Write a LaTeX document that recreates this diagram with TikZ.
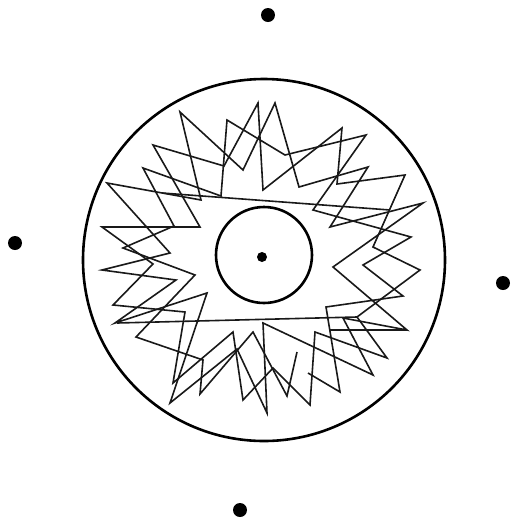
\documentclass[tikz,border=0pt]{standalone}
\begin{document}
\begin{tikzpicture}[x=0.5pt,y=-0.5pt,
    rim/.style={line width=1.3pt},
    walk/.style={line width=0.8pt, line join=miter, black!90}]
    \useasboundingbox (0,0) rectangle (511,521);

    % Circles
    \draw[rim] (264,260) circle[radius=181];
    \draw[rim] (264,255) circle[radius=48];

    % Dots
    \fill (262,257) circle[radius=5];
    \foreach \px/\py in {268/15, 15/243, 503/283, 240/510} {
        \fill (\px,\py) circle[radius=7];
    }

    % First loop
    \draw[walk] (423,203) -- (330,227) -- (368,167) -- (299,187) -- (275,103)
        -- (243,170) -- (180,112) -- (201,200) -- (107,183) -- (170,253)
        -- (102,270) -- (176,280) -- (115,323) -- (207,293) -- (170,403)
        -- (237,349) -- (267,413) -- (263,323) -- (373,375) -- (343,318)
        -- (407,330) -- (333,267) -- cycle;

    % Second loop
    \draw[walk] (405,175) -- (337,184) -- (342,128) -- (263,190) -- (258,103)
        -- (224,166) -- (153,145) -- (200,227) -- (102,227) -- (153,264)
        -- (113,305) -- (185,312) -- (173,383) -- (233,332) -- (243,400)
        -- (273,368) -- (310,405) -- (315,332) -- (387,358) -- (357,317)
        -- (420,270) -- (373,247) -- cycle;

    % Third, open stroke
    \draw[walk] (308,373) -- (340,392) -- (326,307) -- (403,296) -- (363,265)
        -- (411,237) -- (313,210) -- (366,135) -- (285,155) -- (227,120)
        -- (221,196) -- (143,168) -- (174,226) -- (123,248) -- (195,275)
        -- (136,337) -- (203,360) -- (200,394) -- (253,332) -- (287,396)
        -- (297,352);

    % Long chords
    \draw[walk] (162,193) -- (390,210);
    \draw[walk] (117,323) -- (357,317);
    \draw[walk] (330,330) -- (407,330);

\end{tikzpicture}
\end{document}
